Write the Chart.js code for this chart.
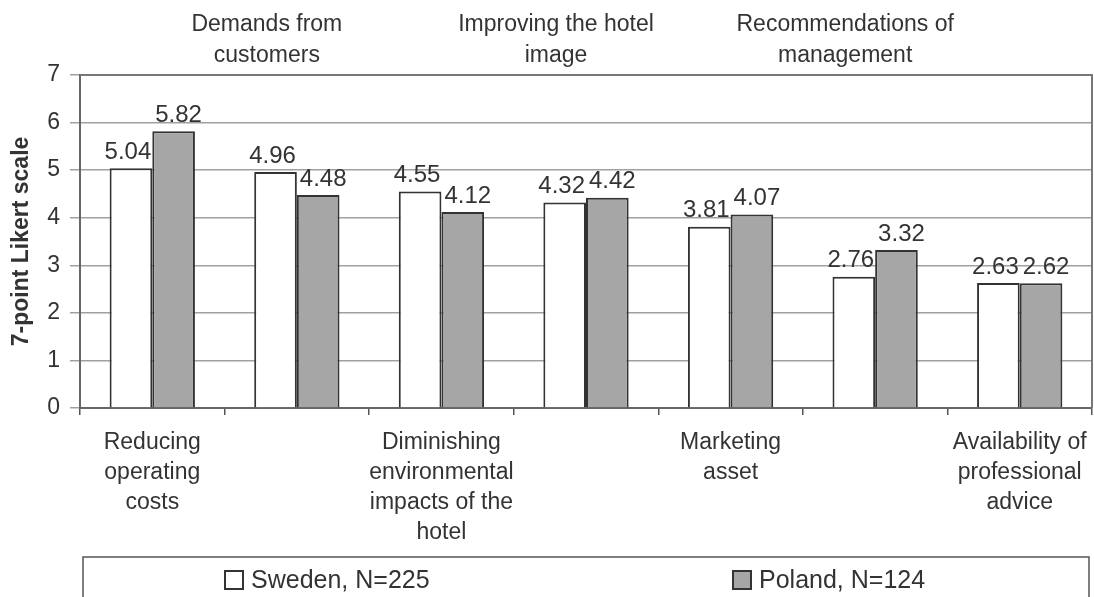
<!DOCTYPE html>
<html>
<head>
<meta charset="utf-8">
<script src="https://cdn.jsdelivr.net/npm/chart.js@4"></script>
<style>
  html, body { margin: 0; padding: 0; background: #fff; }
  #wrap { width: 1094px; height: 597px; }
</style>
</head>
<body>
<div id="wrap"><canvas id="chart" width="1094" height="597"></canvas></div>
<script>
const categories = [
	['Reducing', 'operating', 'costs'],
	['Demands from', 'customers'],
	['Diminishing', 'environmental', 'impacts of the', 'hotel'],
	['Improving the hotel', 'image'],
	['Marketing', 'asset'],
	['Recommendations of', 'management'],
	['Availability of', 'professional', 'advice']
];
const sweden = [5.04, 4.96, 4.55, 4.32, 3.81, 2.76, 2.63];
const poland = [5.82, 4.48, 4.12, 4.42, 4.07, 3.32, 2.62];
const seriesNames = ['Sweden, N=225', 'Poland, N=124'];
const yTicks = [0, 1, 2, 3, 4, 5, 6, 7];

const FONT = "'Liberation Sans', Arial, Helvetica, sans-serif";
const INK = '#333';

// value text above every bar; the two series are nudged apart a little
const valueLabels = {
	id: 'valueLabels',
	afterDatasetsDraw(chart) {
		const ctx = chart.ctx;
		const nudge = [-3, 5];
		ctx.save();
		ctx.font = '24px ' + FONT;
		ctx.fillStyle = INK;
		ctx.textAlign = 'center';
		ctx.textBaseline = 'bottom';
		chart.data.datasets.forEach((ds, i) => {
			chart.getDatasetMeta(i).data.forEach((bar, j) => {
				ctx.fillText(ds.data[j].toFixed(2), bar.x + nudge[i], bar.y - 4);
			});
		});
		ctx.restore();
	}
};

// top and right edge of the plot
const plotFrame = {
	id: 'plotFrame',
	beforeDatasetsDraw(chart) {
		const {ctx, chartArea: a} = chart;
		ctx.save();
		ctx.strokeStyle = '#777';
		ctx.lineWidth = 2;
		ctx.beginPath();
		ctx.moveTo(a.left, a.top);
		ctx.lineTo(a.right, a.top);
		ctx.lineTo(a.right, a.bottom);
		ctx.stroke();
		ctx.restore();
	}
};

// boxed legend spread across the bottom
const boxLegend = {
	id: 'boxLegend',
	afterDraw(chart) {
		const {ctx, chartArea: a} = chart;
		const top = 557;
		const mid = 580;
		ctx.save();
		ctx.strokeStyle = '#555';
		ctx.lineWidth = 1.5;
		ctx.strokeRect(a.left + 3, top, a.right - a.left - 6, 60);
		const starts = [a.left + 145, a.left + 653];
		ctx.font = '25px ' + FONT;
		ctx.textBaseline = 'middle';
		ctx.textAlign = 'left';
		chart.data.datasets.forEach((ds, i) => {
			const x = starts[i];
			ctx.fillStyle = ds.backgroundColor;
			ctx.fillRect(x, mid - 9, 18, 18);
			ctx.strokeStyle = ds.borderColor;
			ctx.lineWidth = 2;
			ctx.strokeRect(x, mid - 9, 18, 18);
			ctx.fillStyle = INK;
			ctx.fillText(ds.label, x + 26, mid + 1);
		});
		ctx.restore();
	}
};

// category labels may hang past the plot edge, so drop the side padding
const noSidePad = (s) => { s.paddingLeft = 0; s.paddingRight = 0; };

new Chart(document.getElementById('chart'), {
	type: 'bar',
	data: {
		labels: categories,
		datasets: [
			{
				label: seriesNames[0],
				data: sweden,
				backgroundColor: '#ffffff',
				borderColor: '#333333',
				borderWidth: 2,
				xAxisID: 'x'
			},
			{
				label: seriesNames[1],
				data: poland,
				backgroundColor: '#a6a6a6',
				borderColor: '#333333',
				borderWidth: 2,
				xAxisID: 'x'
			}
		]
	},
	options: {
		responsive: false,
		animation: false,
		devicePixelRatio: 1,
		layout: {padding: {left: 0, right: 2, top: 0, bottom: 40}},
		datasets: {
			bar: {categoryPercentage: 0.59, barPercentage: 1.0}
		},
		plugins: {
			legend: {display: false},
			tooltip: {enabled: false}
		},
		scales: {
			x: {
				position: 'bottom',
				offset: true,
				afterFit: (s) => { s.height = 149; noSidePad(s); },
				grid: {
					offset: true,
					drawOnChartArea: false,
					tickLength: 7,
					color: '#555',
					lineWidth: 1.5
				},
				border: {color: '#666', width: 2},
				ticks: {
					autoSkip: false,
					maxRotation: 0,
					padding: 13,
					color: INK,
					font: {family: FONT, size: 23, lineHeight: 1.3},
					callback: (v, i) => (i % 2 === 0 ? categories[i] : '')
				}
			},
			xTop: {
				type: 'category',
				position: 'top',
				offset: true,
				labels: categories,
				afterFit: (s) => { s.height = 75; noSidePad(s); },
				grid: {display: false, tickLength: 0},
				border: {display: false},
				ticks: {
					autoSkip: false,
					maxRotation: 0,
					padding: 4,
					labelOffset: -30,
					color: INK,
					font: {family: FONT, size: 23, lineHeight: 1.33},
					callback: (v, i) => (i % 2 === 1 ? categories[i] : '')
				}
			},
			y: {
				min: 0,
				max: 7,
				afterFit: (s) => { s.width = 80; },
				afterBuildTicks: (s) => { s.ticks = yTicks.map(v => ({value: v})); },
				grid: {color: '#a0a0a0', lineWidth: 1.5, tickLength: 10},
				border: {color: '#666', width: 2},
				ticks: {
					padding: 10,
					color: INK,
					font: {family: FONT, size: 23}
				},
				title: {
					display: true,
					text: '7-point Likert scale',
					color: INK,
					padding: {top: 8, bottom: 0},
					font: {family: FONT, size: 23, weight: 'bold'}
				}
			}
		}
	},
	plugins: [plotFrame, valueLabels, boxLegend]
});
</script>
</body>
</html>
